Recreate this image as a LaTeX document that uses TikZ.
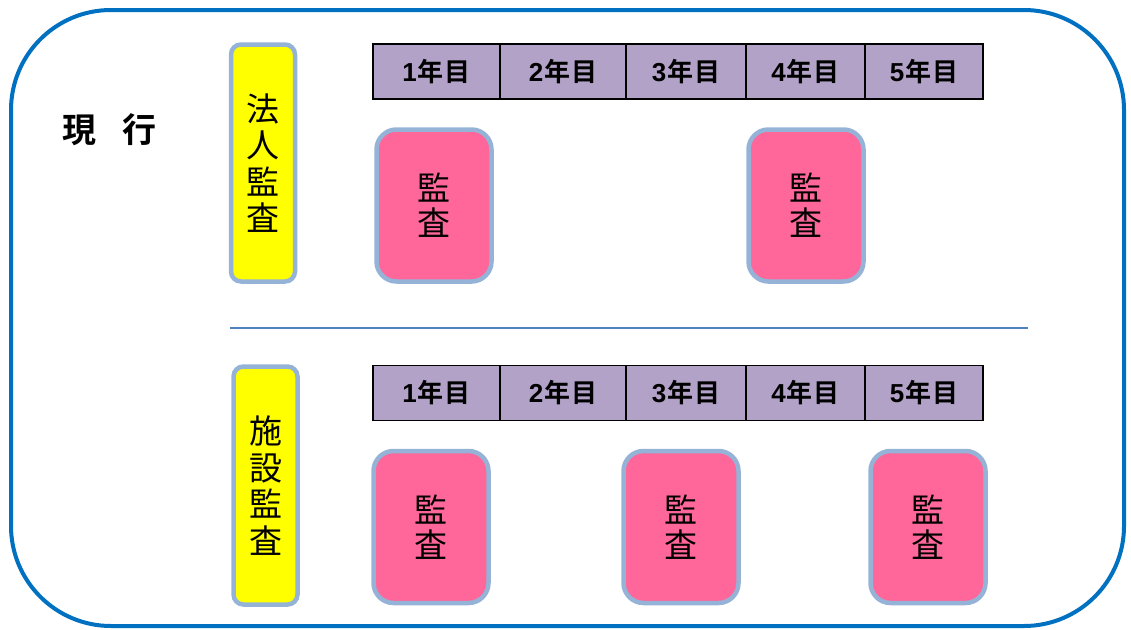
\documentclass[tikz,border=0pt]{standalone}
\usepackage{fontspec}
\newfontfamily\jp{Noto Sans CJK JP}
\newfontfamily\jpb{Noto Sans CJK JP Bold}
\newfontfamily\lsb{Liberation Sans Bold}
\newcommand{\yrlab}[1]{{\lsb #1}\kern1pt 年\kern1pt 目}
\definecolor{frameblue}{RGB}{0,112,192}
\definecolor{edgeblue}{RGB}{149,179,215}
\definecolor{linecol}{RGB}{79,129,189}
\definecolor{lav}{RGB}{178,162,199}
\definecolor{pinkf}{RGB}{255,102,153}
\definecolor{yel}{RGB}{255,255,0}
\tikzset{
  yearcell/.style={draw=black, line width=1.2pt, fill=lav, minimum height=55pt, inner sep=0pt, font=\jpb\fontsize{26}{28}\selectfont},
  auditbox/.style={draw=edgeblue, line width=4.5pt, fill=pinkf, rounded corners=20pt, minimum width=115pt, minimum height=152pt, inner sep=0pt, align=center, font=\jp\fontsize{33}{35}\selectfont},
  labelbox/.style={draw=edgeblue, line width=4.5pt, fill=yel, rounded corners=10pt, minimum width=64pt, minimum height=237pt, inner sep=0pt, align=center, font=\jp\fontsize{33}{36.5}\selectfont},
}
\begin{document}
\begin{tikzpicture}[x=1pt,y=-1pt]
\useasboundingbox (0,0) rectangle (1131,629);
\draw[frameblue, line width=4pt, rounded corners=100pt] (11,10) rectangle (1124,626);
\node[font=\jpb\fontsize{34}{36}\selectfont, anchor=center] (genko) at (109.5,130) {現\hspace{0.75em}行};
% top row
\node[labelbox] (lab1) at (263,163) {法\\人\\監\\査};
\node[yearcell, minimum width=127pt] (t1) at (436.5,71.5) {\yrlab{1}};
\node[yearcell, minimum width=126pt] (t2) at (563,71.5) {\yrlab{2}};
\node[yearcell, minimum width=120pt] (t3) at (686,71.5) {\yrlab{3}};
\node[yearcell, minimum width=119pt] (t4) at (805.5,71.5) {\yrlab{4}};
\node[yearcell, minimum width=118pt] (t5) at (924,71.5) {\yrlab{5}};
\node[auditbox] (a1) at (434,205.5) {監\\査};
\node[auditbox] (a2) at (806,205.5) {監\\査};
% separator
\coordinate (s1) at (230,328);
\coordinate (s2) at (1028,328);
\draw[linecol, line width=1.2pt] (s1) -- (s2);
% bottom row
\node[labelbox, minimum height=238pt] (lab2) at (265.5,485.5) {施\\設\\監\\査};
\node[yearcell, minimum width=127pt] (b1) at (436.5,393) {\yrlab{1}};
\node[yearcell, minimum width=126pt] (b2) at (563,393) {\yrlab{2}};
\node[yearcell, minimum width=120pt] (b3) at (686,393) {\yrlab{3}};
\node[yearcell, minimum width=119pt] (b4) at (805.5,393) {\yrlab{4}};
\node[yearcell, minimum width=118pt] (b5) at (924,393) {\yrlab{5}};
\node[auditbox] (c1) at (431,527) {監\\査};
\node[auditbox] (c2) at (681,527) {監\\査};
\node[auditbox] (c3) at (928,527) {監\\査};
\end{tikzpicture}
\end{document}
